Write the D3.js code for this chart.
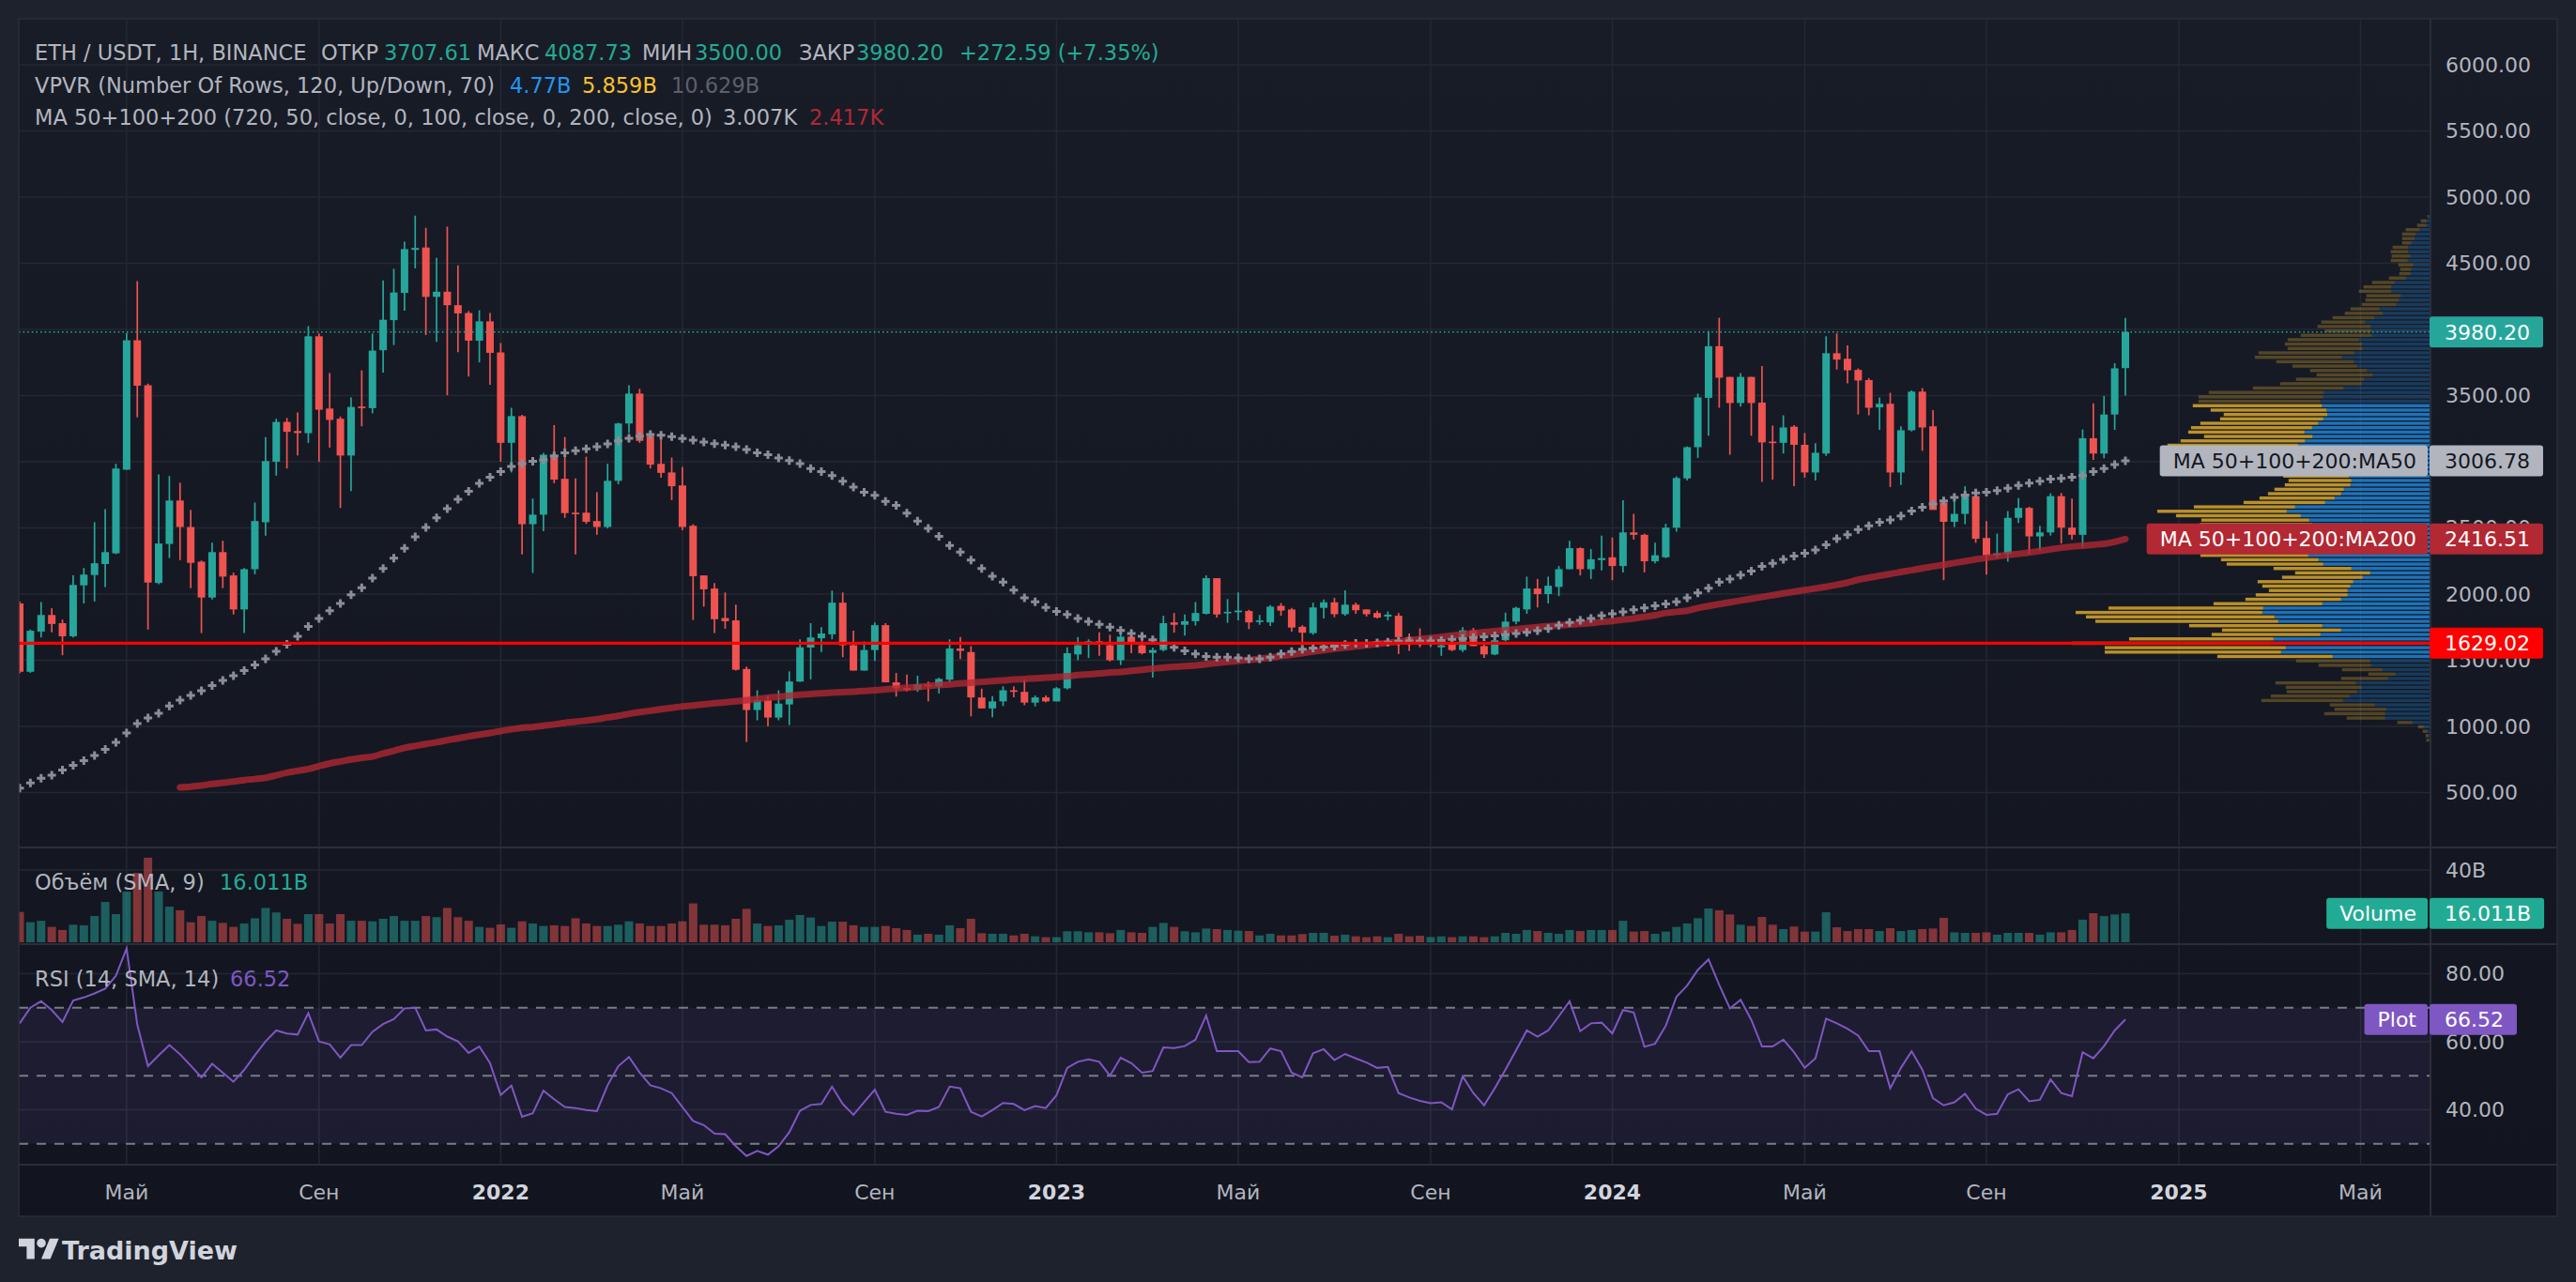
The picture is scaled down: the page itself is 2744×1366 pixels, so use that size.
<!DOCTYPE html>
<html><head><meta charset="utf-8">
<script src="https://cdn.jsdelivr.net/npm/d3@7"></script>
<style>
html,body{margin:0;padding:0;background:#1e222d;overflow:hidden;}
svg{display:block;}
text{font-family:"DejaVu Sans",sans-serif;}
</style></head><body>
<svg id="chart" width="2744" height="1366"></svg>
<script>
// ---------------- DATA (weekly candles, ETH/USDT, starting week of 2021-02-22) ----------------
const opens = [1929,1413,1717,1842,1780,1681,2066,2144,2227,2308,2940,3918,3578,2084,2379,2707,2507,2245,1974,2317,2141,1884,2188,2543,3000,3301,3232,3216,3948,3402,3325,3047,3417,3405,3843,4070,4276,4601,4619,4246,4285,4183,4124,3915,4061,3826,3143,3345,2528,2600,3050,2871,2615,2615,2552,2507,2856,3289,3515,3196,2984,2919,2821,2516,2141,2042,1819,1801,1434,1124,1198,1067,1166,1339,1596,1666,1696,1935,1613,1422,1577,1765,1333,1291,1276,1315,1303,1353,1589,1562,1219,1136,1189,1273,1261,1180,1219,1189,1288,1544,1637,1643,1613,1500,1678,1613,1556,1577,1786,1768,1795,1851,2120,1855,1863,1872,1789,1786,1911,1884,1753,1705,1896,1938,1848,1920,1884,1857,1830,1836,1675,1658,1640,1598,1637,1577,1726,1607,1544,1651,1792,1884,2042,2000,2054,2188,2347,2188,2257,2278,2212,2466,2448,2248,2278,2502,2874,3110,3483,3873,3641,3444,3641,3447,3152,3143,3265,3128,2919,3062,3820,3778,3694,3617,3411,3438,2919,3238,3530,3268,2692,2546,2606,2740,2424,2293,2302,2576,2651,2436,2466,2740,2502,2448,3178,3062,3357,3707.61];
const highs = [1945,1732,1940,1893,1807,2141,2197,2543,2642,2985,3974,4365,3590,2904,2892,2841,2636,2254,2388,2403,2162,2197,2692,3187,3325,3331,3372,4025,3969,3670,3342,3485,3691,3969,4371,4458,4663,4860,4768,4541,4777,4484,4139,4145,4124,3897,3408,3354,2722,3068,3277,3187,2874,3038,2770,2985,3295,3578,3551,3226,3181,3032,2961,2528,2141,2084,2012,1920,1452,1273,1228,1273,1416,1658,1780,1750,2026,2012,1723,1643,1786,1780,1404,1392,1383,1339,1368,1658,1675,1607,1285,1228,1303,1303,1354,1234,1234,1297,1598,1675,1658,1711,1693,1756,1711,1675,1595,1836,1857,1845,1940,2141,2120,1962,2012,1881,1842,1917,1932,1896,1765,1935,1959,1971,2028,1935,1884,1875,1869,1857,1702,1741,1690,1666,1675,1750,1744,1622,1666,1860,1905,2132,2114,2132,2212,2403,2353,2340,2442,2427,2710,2606,2457,2388,2531,2889,3116,3515,3987,4088,3641,3670,3641,3724,3274,3351,3277,3217,3140,3948,3969,3879,3706,3632,3486,3521,3268,3539,3557,3390,2725,2746,2815,2752,2552,2457,2627,2725,2660,2516,2761,2764,2722,3244,3441,3497,3745,4087.73];
const lows = [1400,1405,1672,1711,1538,1672,1929,1944,2054,2302,2940,3336,1732,2075,2272,2257,2045,1705,1959,2045,1846,1705,2150,2442,2895,2949,3047,3143,2999,3107,2651,2779,3268,3366,3673,3882,4142,4461,3957,3906,3503,3828,3644,3751,3581,3000,2919,2299,2159,2475,2838,2576,2299,2531,2448,2496,2830,3217,3143,2949,2880,2710,2483,1804,1905,1705,1738,1422,882,1046,1001,1046,1010,1336,1356,1562,1658,1523,1422,1422,1494,1333,1225,1264,1261,1189,1249,1333,1508,1076,1136,1070,1154,1219,1160,1151,1183,1189,1279,1500,1517,1533,1491,1464,1553,1544,1368,1566,1708,1687,1762,1846,1822,1783,1801,1735,1768,1759,1836,1717,1634,1693,1816,1825,1836,1851,1830,1816,1801,1547,1571,1598,1600,1533,1568,1562,1607,1517,1538,1643,1771,1851,1899,1929,1985,2188,2141,2114,2179,2105,2164,2412,2164,2233,2272,2472,2859,3029,3196,3408,3053,3417,3196,2847,2865,3062,2815,2880,2859,3044,3697,3593,3357,3351,3241,2809,2824,3229,3083,2636,2105,2507,2528,2388,2147,2272,2245,2537,2302,2329,2442,2382,2412,2352,3014,3026,3241,3500.00];
const closes = [1413,1723,1842,1774,1681,2069,2147,2233,2317,2949,3918,3575,2087,2382,2707,2507,2236,1974,2317,2132,1884,2188,2552,3005,3301,3226,3217,3948,3393,3316,3047,3414,3405,3840,4073,4279,4607,4616,4246,4285,4183,4121,3915,4061,3823,3143,3345,2528,2600,3053,2865,2612,2609,2546,2507,2856,3289,3515,3158,2978,2916,2815,2507,2135,2036,1810,1795,1428,1124,1198,1067,1172,1339,1598,1672,1702,1935,1613,1422,1577,1765,1333,1288,1273,1318,1303,1359,1589,1571,1219,1136,1189,1273,1261,1180,1219,1189,1288,1553,1613,1643,1631,1500,1678,1637,1553,1577,1780,1768,1795,1857,2120,1846,1866,1875,1786,1801,1905,1875,1747,1708,1899,1938,1848,1920,1878,1848,1822,1845,1675,1651,1643,1655,1613,1577,1726,1607,1544,1651,1792,1896,2042,2000,2063,2188,2347,2188,2263,2272,2212,2466,2448,2248,2293,2502,2877,3110,3486,3873,3635,3444,3641,3444,3146,3143,3259,3128,2919,3068,3820,3772,3691,3614,3408,3438,2919,3238,3530,3259,2636,2546,2606,2740,2418,2293,2308,2576,2651,2436,2466,2740,2502,2448,3178,3062,3357,3706,3980.20];
const volumes = [16.8,11.1,11.9,8.5,6.8,9.7,9.4,14.5,22.3,15.6,28,38.4,46.8,28.1,19.7,17.7,11.1,14.5,11.9,10.7,8.5,10.4,13.3,19.0,16.5,13.0,10.2,15.6,15.6,10.4,15.6,11.9,11.9,11.6,13.0,14.5,11.9,11.9,14.5,13.9,19.0,13.9,11.9,8.5,8.0,9.9,8.0,11.6,10.4,9.0,9.4,9.0,13.3,10.4,9.0,9.0,9.7,11.6,10.4,9.0,9.0,10.4,11.6,21.5,9.7,9.7,9.4,13.0,18.5,10.4,9.0,9.4,12.5,15.1,13.7,9.0,11.4,11.4,9.4,8.5,8.5,9.0,7.8,6.8,4.2,4.7,4.2,9.4,7.8,13.0,5.0,4.7,4.7,3.8,4.7,3.3,2.8,2.8,6.1,6.1,5.5,5.5,5.0,6.8,5.5,5.2,8.5,10.7,8.5,6.1,5.5,7.6,7.3,6.8,6.4,6.2,3.8,4.7,3.8,3.8,4.5,5.2,5.2,3.6,4.2,3.3,2.8,3.3,2.8,4.7,3.3,3.6,2.9,3.3,2.8,3.3,3.3,2.8,3.3,5.2,4.7,6.8,6.2,5.2,4.7,6.8,6.2,6.8,6.8,6.8,11.9,5.9,6.2,4.7,5.9,8.5,10.4,13.3,18.7,17.7,15.4,9.7,9.0,14.0,9.7,7.3,8.7,5.9,5.9,16.6,8.3,6.2,7.3,7.3,6.2,7.8,6.2,6.8,7.3,7.6,13.5,5.5,5.2,5.2,5.5,4.2,5.2,5.2,5.2,4.2,5.5,5.5,6.8,12.5,16.1,14.5,15.4,16.011];
const rsiValues = [65.4,70.0,71.9,69.3,65.8,72.1,73.0,74.2,75.6,79.4,87.4,65,52.8,56.0,59.0,56.3,53.0,49.5,53.5,50.9,48.2,51.7,56.0,60.1,63.3,62.4,62.1,68.4,60.1,59.2,55.3,59.0,59.0,62.9,65.2,66.6,69.8,70.0,63.3,63.6,61.5,60.1,56.7,58.6,53.7,44.3,47.1,37.9,39.0,45.6,43.1,40.8,40.5,39.9,39.6,47.2,52.8,55.5,50.9,47.2,46.3,44.9,40.8,36.7,35.5,33.0,32.8,29.3,26.4,27.9,26.8,29.3,33.4,39.7,41.4,41.7,46.8,41.7,38.5,42.2,45.9,39.4,38.8,38.5,39.7,39.6,40.8,46.8,46.3,39.4,38.0,39.9,42.0,41.7,39.9,41.1,40.5,44.3,52.3,54.1,54.8,54.1,50.0,55.3,53.7,50.9,51.4,58.3,58.1,58.7,60.6,67.7,57.2,57.2,57.2,54.0,54.1,58.0,57.2,50.9,49.5,56.6,57.8,54.6,56.4,55.1,53.9,52.3,52.6,44.9,43.6,42.6,41.9,42.2,40.1,49.8,44.9,41.3,46.3,51.8,57.5,63.3,61.5,63.3,67.5,71.9,63.1,65.4,65.6,62.4,69.3,68.6,58.5,59.4,64.7,73.2,76.5,81.1,84.2,76.7,69.8,72.3,66.4,58.6,58.6,60.6,56.9,52.3,55.1,66.8,65.4,63.8,61.8,57.2,57.2,46.3,52.3,57.2,51.8,43.4,41.3,42.2,44.7,40.3,38.5,38.8,44.5,46.0,42.5,42.9,48.9,44.9,44.0,56.9,55.1,58.7,63.3,66.52];
const ma50 = [534,572,608,632,671,706,742,781,826,879,951,1022,1064,1100,1154,1198,1234,1270,1309,1348,1383,1422,1464,1511,1568,1620,1681,1756,1816,1875,1929,1995,2048,2120,2194,2272,2346,2433,2504,2576,2645,2716,2776,2836,2883,2925,2964,2985,3003,3014,3044,3068,3083,3098,3113,3134,3158,3178,3193,3205,3200,3190,3175,3164,3149,3136,3126,3113,3092,3068,3053,3029,3008,2985,2949,2925,2895,2853,2809,2770,2746,2701,2671,2612,2552,2496,2436,2367,2317,2257,2194,2135,2090,2030,1971,1941,1899,1869,1845,1816,1792,1771,1750,1726,1702,1681,1655,1625,1598,1571,1547,1529,1523,1523,1517,1511,1511,1523,1547,1565,1583,1592,1601,1607,1619,1628,1628,1631,1637,1643,1646,1643,1646,1649,1658,1664,1672,1678,1684,1693,1702,1711,1723,1740,1765,1785,1801,1815,1836,1851,1866,1881,1896,1911,1926,1941,1971,2009,2045,2090,2114,2144,2173,2209,2233,2263,2287,2308,2334,2373,2418,2448,2487,2516,2543,2561,2591,2627,2656,2680,2704,2731,2749,2764,2770,2782,2800,2821,2838,2853,2868,2874,2883,2895,2925,2949,2979,3006.78];
const ma200 = [null,null,null,null,null,null,null,null,null,null,null,null,null,null,null,539,545,553,565,574,583,594,602,612,630,650,664,678,700,720,735,750,762,772,795,815,838,852,867,880,896,910,925,938,950,965,978,990,995,1005,1015,1027,1035,1045,1055,1068,1080,1095,1108,1118,1130,1140,1150,1158,1166,1175,1182,1189,1198,1207,1217,1224,1232,1240,1245,1250,1255,1259,1263,1268,1273,1280,1286,1292,1298,1305,1312,1318,1324,1330,1336,1342,1348,1354,1358,1364,1368,1374,1379,1388,1394,1400,1407,1412,1420,1428,1436,1444,1450,1455,1461,1470,1479,1488,1495,1503,1510,1519,1531,1543,1553,1565,1576,1586,1595,1604,1614,1623,1632,1641,1650,1660,1668,1677,1686,1695,1704,1712,1720,1727,1735,1743,1750,1757,1763,1769,1774,1780,1790,1796,1806,1816,1828,1840,1857,1866,1874,1895,1910,1924,1938,1951,1964,1978,1991,2005,2018,2030,2042,2055,2070,2087,2108,2124,2138,2152,2167,2180,2195,2208,2222,2235,2248,2262,2274,2285,2296,2304,2314,2326,2338,2350,2359,2366,2373,2380,2395,2416.51];
// Volume profile (120 rows, from the top price row downwards)
const vpUp = [1.0,3.3,3.3,10.7,15.0,16.0,19.3,22.7,22.7,20.3,23.3,17.3,19.3,20.3,25.3,37.3,40.7,40.7,30.7,32.7,35.3,53.3,49.7,58.7,68.7,62.7,61.7,61.7,75.3,72.3,71.3,80.3,93.3,80.7,77.3,66.7,60.7,69.7,72.3,91.7,112.7,113.3,116.7,114.7,109.7,108.7,113.3,118.7,125.3,133.3,124.7,132.7,139.7,132,125,118,108,98,90,86,83.3,84.3,91.3,94.3,101.3,111.3,143.3,152.3,137.3,128.3,125,120,118,115,110,115,122,129.3,118.3,113.3,83.3,63.3,71.3,81.3,84.3,87.3,87.3,94.3,114.3,177.3,178.3,165.3,161.3,114.3,94.3,116.3,166.3,169.3,153.3,158.3,103.3,63.3,62.3,50.3,36.3,44.3,78.3,72.3,77.3,85.3,92.3,58.3,46.3,47.3,47.3,18.3,6.3,2.3,1.0,0.7];
const vpDown = [1.3,6.0,10.0,14.7,14.3,13.3,10.0,16.7,18.7,20.0,18.0,16.0,12.0,12.0,18.0,24.0,29.7,34.7,36.7,35.7,37.0,31.0,40.7,44.7,46.7,56.7,50.0,75.7,76.0,82.0,80.0,102.0,93.0,82.7,69.0,60.7,59.7,72.7,87.0,96.7,122.7,133.0,129.7,137.7,123.7,110.7,110.0,125.7,129.0,124.0,115.7,132.7,139.7,125,118,108,96,85,76,70,67.0,70.0,74.0,78.0,80.0,87.0,108.0,138.0,133.0,115.0,120,110,100,95,100,105,115,115.0,104.0,103.0,83.0,80.0,86.0,102.0,94.0,84.0,98.0,102.0,116.0,165.0,199.0,201.0,195.0,142.0,127.0,116.0,154.0,212.0,193.0,188.0,123.0,79.0,56.0,43.0,29.0,50.0,86.0,81.0,75.0,84.0,87.0,48.0,55.0,65.0,41.0,16.0,6.0,5.0,3.3,2.7];
const vpRange = [880, 4870];
const vpValueArea = [1510, 3440];
const priceTicks = [500,1000,1500,2000,2500,3000,3500,4000,4500,5000,5500,6000];
const volumeTicks = [40];
const rsiTicks = [40,60,80];
const rsiLevels = [70,50,30];
const timeTickDates = ["2021-05-03","2021-09-06","2022-01-03","2022-05-02","2022-09-05","2023-01-02","2023-05-01","2023-09-04","2024-01-01","2024-05-06","2024-09-02","2025-01-06","2025-05-05"];
const timeTickLabels = ["Май","Сен","2022","Май","Сен","2023","Май","Сен","2024","Май","Сен","2025","Май"];
const hLinePrice = 1629.02;
const lastPrice = 3980.20;

// ---------------- LAYOUT ----------------
const L = 20, R = 2588, AX = 2589, FR = 2724, TOP = 20, BOT = 1296;
const mainBot = 902, volTop = 904, volBot = 1005, rsiTop = 1007, rsiBot = 1240;
const FONT = "'DejaVu Sans', sans-serif";
const TXT = "#b2b5be", UP = "#26a69a", DOWN = "#ef5350", GRID = "#242833";

const N = opens.length;
const t0 = Date.UTC(2021, 1, 22);
const dates = d3.range(N).map(i => new Date(t0 + i * 7 * 864e5));
const x = d3.scaleUtc().domain([dates[0], dates[N - 1]]).range([21, 2264]);
const yP = d3.scaleLinear().domain([500, 6000]).range([844.5, 69]);
const yV = d3.scaleLinear().domain([0, 40]).range([1004, 927]);
const yR = d3.scaleLinear().domain([30, 70]).range([1218.7, 1073.7]);
const parse = d3.utcParse("%Y-%m-%d");

const svg = d3.select("#chart");
const defs = svg.append("defs");
const grad = defs.append("linearGradient").attr("id", "bg").attr("x1", 0).attr("y1", 0).attr("x2", 0).attr("y2", 1);
grad.append("stop").attr("offset", "0%").attr("stop-color", "#181c27");
grad.append("stop").attr("offset", "100%").attr("stop-color", "#121520");
defs.append("clipPath").attr("id", "clipMain").append("rect").attr("x", L).attr("y", TOP).attr("width", R - L).attr("height", mainBot - TOP);
defs.append("clipPath").attr("id", "clipVol").append("rect").attr("x", L).attr("y", volTop).attr("width", R - L).attr("height", volBot - volTop);
defs.append("clipPath").attr("id", "clipRsi").append("rect").attr("x", L).attr("y", rsiTop).attr("width", R - L).attr("height", rsiBot - rsiTop);

svg.append("rect").attr("width", 2744).attr("height", 1366).attr("fill", "#1e222d");
svg.append("rect").attr("x", L).attr("y", TOP).attr("width", FR - L).attr("height", BOT - TOP).attr("fill", "url(#bg)");

// ---------------- GRID ----------------
const grid = svg.append("g");
grid.selectAll(".hp").data(priceTicks).join("line")
  .attr("x1", L).attr("x2", R).attr("y1", d => yP(d)).attr("y2", d => yP(d))
  .attr("stroke", GRID).attr("stroke-width", 1.5);
grid.selectAll(".vt").data(timeTickDates).join("line")
  .attr("x1", d => x(parse(d))).attr("x2", d => x(parse(d))).attr("y1", TOP).attr("y2", rsiBot)
  .attr("stroke", GRID).attr("stroke-width", 1.5);
grid.selectAll(".hv").data(volumeTicks).join("line")
  .attr("x1", L).attr("x2", R).attr("y1", d => yV(d)).attr("y2", d => yV(d))
  .attr("stroke", GRID).attr("stroke-width", 1.5);
grid.selectAll(".hr").data(rsiTicks).join("line")
  .attr("x1", L).attr("x2", R).attr("y1", d => yR(d)).attr("y2", d => yR(d))
  .attr("stroke", GRID).attr("stroke-width", 1.5);

// ---------------- VOLUME PROFILE ----------------
const main = svg.append("g").attr("clip-path", "url(#clipMain)");
const vpStep = (vpRange[1] - vpRange[0]) / vpUp.length;
const vpMax = d3.max(vpUp.map((u, i) => u + vpDown[i]));
const wVP = d3.scaleLinear().domain([0, vpMax]).range([0, 381]);
const vpRows = vpUp.map((u, i) => {
  const pc = vpRange[1] - vpStep * (i + 0.5);
  return { up: u, down: vpDown[i], pc, inVA: pc >= vpValueArea[0] && pc <= vpValueArea[1] };
});
const rowH = Math.abs(yP(0) - yP(vpStep)) - 1.3;
const vpG = main.append("g");
vpG.selectAll(".vpu").data(vpRows).join("rect")
  .attr("x", d => R - wVP(d.up)).attr("y", d => yP(d.pc) - rowH / 2)
  .attr("width", d => wVP(d.up)).attr("height", rowH)
  .attr("fill", d => d.inVA ? "rgba(33,150,243,0.72)" : "rgba(33,150,243,0.27)");
vpG.selectAll(".vpd").data(vpRows).join("rect")
  .attr("x", d => R - wVP(d.up) - wVP(d.down)).attr("y", d => yP(d.pc) - rowH / 2)
  .attr("width", d => wVP(d.down)).attr("height", rowH)
  .attr("fill", d => d.inVA ? "rgba(251,192,45,0.72)" : "rgba(251,192,45,0.27)");

// ---------------- CANDLES ----------------
const candles = d3.range(N).map(i => ({ i, d: dates[i], o: opens[i], h: highs[i], l: lows[i], c: closes[i] }));
const cg = main.append("g");
cg.selectAll(".wick").data(candles).join("line")
  .attr("x1", d => x(d.d)).attr("x2", d => x(d.d)).attr("y1", d => yP(d.h)).attr("y2", d => yP(d.l))
  .attr("stroke", d => d.c >= d.o ? UP : DOWN).attr("stroke-width", 1.7);
cg.selectAll(".body").data(candles).join("rect")
  .attr("x", d => x(d.d) - 4).attr("width", 8)
  .attr("y", d => yP(Math.max(d.o, d.c)))
  .attr("height", d => Math.max(1.6, Math.abs(yP(d.o) - yP(d.c))))
  .attr("fill", d => d.c >= d.o ? UP : DOWN);

// ---------------- MOVING AVERAGES ----------------
const ma200Line = d3.line().defined(d => d != null).x((d, i) => x(dates[i])).y(d => yP(d)).curve(d3.curveMonotoneX);
main.append("path").datum(ma200).attr("d", ma200Line)
  .attr("fill", "none").attr("stroke", "rgba(178,40,51,0.78)").attr("stroke-width", 7).attr("stroke-linecap", "round");
main.append("g").selectAll("path").data(ma50).join("path")
  .attr("transform", (d, i) => `translate(${x(dates[i])},${yP(d)})`)
  .attr("d", "M-4.5,0H4.5M0,-4.5V4.5")
  .attr("stroke", "#8b8e98").attr("stroke-width", 3).attr("fill", "none");

// horizontal line and last price line
main.append("line").attr("x1", L).attr("x2", R).attr("y1", yP(hLinePrice)).attr("y2", yP(hLinePrice))
  .attr("stroke", "#ff0000").attr("stroke-width", 3.2);
main.append("line").attr("x1", L).attr("x2", R).attr("y1", yP(lastPrice)).attr("y2", yP(lastPrice))
  .attr("stroke", UP).attr("stroke-width", 1.6).attr("stroke-dasharray", "1.6,3");

// ---------------- VOLUME ----------------
const vg = svg.append("g").attr("clip-path", "url(#clipVol)");
vg.selectAll("rect").data(candles).join("rect")
  .attr("x", d => x(d.d) - 4.5).attr("width", 9)
  .attr("y", d => yV(volumes[d.i])).attr("height", d => yV(0) - yV(volumes[d.i]))
  .attr("fill", d => d.c >= d.o ? "rgba(38,166,154,0.5)" : "rgba(239,83,80,0.5)");

// ---------------- RSI ----------------
const rg = svg.append("g").attr("clip-path", "url(#clipRsi)");
rg.append("rect").attr("x", L).attr("width", R - L).attr("y", yR(70)).attr("height", yR(30) - yR(70))
  .attr("fill", "rgba(126,87,194,0.1)");
rg.selectAll(".lvl").data(rsiLevels).join("line")
  .attr("x1", L).attr("x2", R).attr("y1", d => yR(d)).attr("y2", d => yR(d))
  .attr("stroke", "#787b86").attr("stroke-width", 2).attr("stroke-dasharray", "10,9");
rg.append("path").datum(rsiValues)
  .attr("d", d3.line().x((d, i) => x(dates[i])).y(d => yR(d)))
  .attr("fill", "none").attr("stroke", "#7e57c2").attr("stroke-width", 2);

// ---------------- SEPARATORS / FRAME ----------------
const sep = svg.append("g").attr("stroke", "#2a2e39").attr("stroke-width", 2);
[903, 1006, 1241].forEach(y => sep.append("line").attr("x1", L).attr("x2", FR).attr("y1", y).attr("y2", y));
sep.append("line").attr("x1", AX).attr("x2", AX).attr("y1", TOP).attr("y2", BOT);
svg.append("rect").attr("x", L).attr("y", TOP).attr("width", FR - L).attr("height", BOT - TOP)
  .attr("fill", "none").attr("stroke", "#2a2e39").attr("stroke-width", 1.5);

// ---------------- AXES ----------------
const ax = svg.append("g").attr("font-family", FONT).attr("font-size", 22).attr("fill", TXT);
ax.selectAll(".pl").data(priceTicks).join("text")
  .attr("x", 2605).attr("y", d => yP(d)).attr("dy", "0.36em").text(d3.format(".2f"));
ax.selectAll(".vl").data(volumeTicks).join("text")
  .attr("x", 2605).attr("y", d => yV(d)).attr("dy", "0.36em").text(d => d + "B");
ax.selectAll(".rl").data(rsiTicks).join("text")
  .attr("x", 2605).attr("y", d => yR(d)).attr("dy", "0.36em").text(d3.format(".2f"));
ax.selectAll(".tl").data(timeTickDates).join("text")
  .attr("x", d => x(parse(d))).attr("y", 1270).attr("dy", "0.36em").attr("text-anchor", "middle")
  .attr("font-weight", (d, i) => /^\d+$/.test(timeTickLabels[i]) ? "bold" : "normal")
  .attr("fill", (d, i) => /^\d+$/.test(timeTickLabels[i]) ? "#d1d4dc" : TXT)
  .text((d, i) => timeTickLabels[i]);

// ---------------- AXIS LABEL BOXES ----------------
function valueBox(yc, txt, fill, color, leftTxt, rightEndMin) {
  const g = svg.append("g").attr("font-family", FONT).attr("font-size", 22);
  const r = g.append("rect").attr("x", 2588).attr("y", yc - 16.5).attr("height", 33).attr("rx", 3).attr("fill", fill);
  const t = g.append("text").attr("x", 2604).attr("y", yc).attr("dy", "0.36em").attr("fill", color).text(txt);
  const w = t.node().getComputedTextLength();
  r.attr("width", Math.max(w + 30, rightEndMin || 0));
  if (leftTxt) {
    const r2 = g.append("rect").attr("y", yc - 16.5).attr("height", 33).attr("rx", 3).attr("fill", fill);
    const t2 = g.append("text").attr("y", yc).attr("dy", "0.36em").attr("fill", color).attr("text-anchor", "end").attr("x", 2574).text(leftTxt);
    const w2 = t2.node().getComputedTextLength();
    r2.attr("x", 2586 - w2 - 26).attr("width", w2 + 26);
  }
}
valueBox(yP(lastPrice), d3.format(".2f")(lastPrice), "#26a69a", "#ffffff");
valueBox(yP(ma50[N - 1]), d3.format(".2f")(ma50[N - 1]), "#b2b5be", "#131722", "MA 50+100+200:MA50");
valueBox(yP(ma200[N - 1]), d3.format(".2f")(ma200[N - 1]), "#b22833", "#ffffff", "MA 50+100+200:MA200");
valueBox(yP(hLinePrice), d3.format(".2f")(hLinePrice), "#ff0000", "#ffffff");
valueBox(yV(volumes[N - 1]), "16.011B", "#22ab94", "#ffffff", "Volume");
valueBox(yR(rsiValues[N - 1]), d3.format(".2f")(rsiValues[N - 1]), "#7e57c2", "#ffffff", "Plot");

// ---------------- LEGENDS ----------------
function legend(y, parts) {
  const t = svg.append("text").attr("font-family", FONT).attr("font-size", 22.5).attr("y", y).attr("dy", "0.36em");
  parts.forEach(p => t.append("tspan").attr("x", p[0]).attr("fill", p[2]).text(p[1]));
}
legend(56, [[37, "ETH / USDT, 1H, BINANCE", TXT], [342, "ОТКР", TXT], [409, "3707.61", "#22ab94"], [508, "МАКС", TXT], [580, "4087.73", "#22ab94"],
  [684, "МИН", TXT], [740, "3500.00", "#22ab94"], [851, "ЗАКР", TXT], [912, "3980.20", "#22ab94"], [1022, "+272.59 (+7.35%)", "#22ab94"]]);
legend(91, [[37, "VPVR (Number Of Rows, 120, Up/Down, 70)", TXT], [543, "4.77B", "#2196f3"], [620, "5.859B", "#fbc02d"], [715, "10.629B", "#5d606b"]]);
legend(125, [[37, "MA 50+100+200 (720, 50, close, 0, 100, close, 0, 200, close, 0)", TXT], [770, "3.007K", TXT], [862, "2.417K", "#b22833"]]);
legend(940, [[37, "Объём (SMA, 9)", TXT], [234, "16.011B", "#22ab94"]]);
legend(1043, [[37, "RSI (14, SMA, 14)", TXT], [245, "66.52", "#7e57c2"]]);

// ---------------- LOGO ----------------
const logo = svg.append("g").attr("transform", "translate(20,1315) scale(1.2)").attr("fill", "#d1d4dc");
logo.append("path").attr("d", "M14 22H7V11H0V4h14v18zM28 22h-8l7.5-18h8L28 22z");
logo.append("circle").attr("cx", 20).attr("cy", 8).attr("r", 4);
svg.append("text").attr("x", 66).attr("y", 1332).attr("dy", "0.36em").attr("font-family", "Roboto, sans-serif")
  .attr("font-weight", "bold").attr("font-size", 27).attr("fill", "#d1d4dc").text("TradingView");
</script>
</body></html>
